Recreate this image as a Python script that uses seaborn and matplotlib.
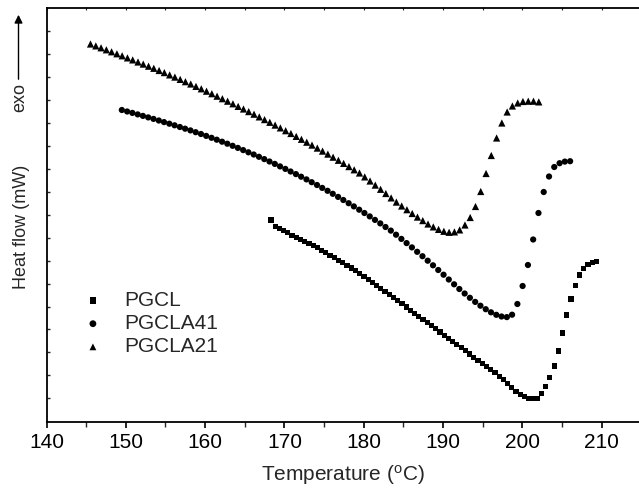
import numpy as np
import pandas as pd
import matplotlib
matplotlib.use("Agg")
import matplotlib.pyplot as plt
import seaborn as sns
from matplotlib.ticker import MultipleLocator, NullFormatter, FixedLocator

# ---------------- data ----------------
series_names = ["PGCL", "PGCLA41", "PGCLA21"]

pgcl_temp = [168.30, 168.83, 169.37, 169.90, 170.43, 170.97, 171.50, 172.03, 172.56, 173.10,
             173.63, 174.16, 174.70, 175.23, 175.76, 176.30, 176.83, 177.36, 177.89, 178.43,
             178.96, 179.49, 180.03, 180.56, 181.09, 181.63, 182.16, 182.69, 183.22, 183.76,
             184.29, 184.82, 185.36, 185.89, 186.42, 186.96, 187.49, 188.02, 188.55, 189.09,
             189.62, 190.15, 190.69, 191.22, 191.75, 192.29, 192.82, 193.35, 193.88, 194.42,
             194.95, 195.48, 196.02, 196.55, 197.08, 197.62, 198.15, 198.68, 199.21, 199.75,
             200.28, 200.81, 201.35, 201.88, 202.41, 202.95, 203.48, 204.01, 204.54, 205.08,
             205.61, 206.14, 206.68, 207.21, 207.74, 208.28, 208.81, 209.34]
pgcl_flow = [201.5, 195.0, 192.9, 190.8, 188.6, 186.4, 184.2, 182.0, 180.1, 178.3,
             176.0, 173.6, 171.2, 168.8, 166.3, 163.8, 161.3, 158.7, 156.1, 153.5,
             150.8, 148.0, 145.1, 142.2, 139.2, 136.2, 133.1, 130.0, 126.9, 123.8,
             120.7, 117.6, 114.5, 111.4, 108.3, 105.1, 102.0, 98.9, 95.8, 92.6,
             89.5, 86.4, 83.2, 80.1, 77.0, 73.8, 70.7, 67.5, 64.4, 61.2,
             58.1, 55.0, 51.9, 48.6, 45.2, 41.6, 37.8, 34.0, 30.4, 27.3,
             24.9, 23.3, 22.6, 23.3, 28.0, 35.0, 44.0, 55.5, 70.5, 88.5,
             106.5, 122.5, 136.0, 146.5, 153.0, 157.0, 159.0, 159.8]

pgcla41_temp = [149.50, 150.17, 150.83, 151.50, 152.16, 152.83, 153.49, 154.16, 154.82, 155.49,
                156.15, 156.82, 157.48, 158.15, 158.81, 159.48, 160.14, 160.81, 161.47, 162.14,
                162.80, 163.47, 164.13, 164.80, 165.46, 166.13, 166.79, 167.46, 168.12, 168.79,
                169.45, 170.12, 170.78, 171.45, 172.11, 172.78, 173.44, 174.11, 174.77, 175.44,
                176.10, 176.77, 177.43, 178.10, 178.76, 179.43, 180.09, 180.76, 181.42, 182.09,
                182.75, 183.42, 184.08, 184.75, 185.41, 186.08, 186.74, 187.41, 188.07, 188.74,
                189.40, 190.07, 190.73, 191.40, 192.06, 192.73, 193.39, 194.06, 194.72, 195.39,
                196.05, 196.72, 197.38, 198.05, 198.71, 199.38, 200.04, 200.71, 201.37, 202.04,
                202.70, 203.37, 204.03, 204.70, 205.36, 206.03]
pgcla41_flow = [311.5, 310.0, 308.6, 307.1, 305.6, 304.1, 302.6, 301.0, 299.4, 297.8,
                296.2, 294.5, 292.8, 291.1, 289.3, 287.5, 285.6, 283.7, 281.8, 279.8,
                277.8, 275.7, 273.6, 271.4, 269.2, 267.0, 264.7, 262.4, 260.0, 257.6,
                255.1, 252.6, 250.0, 247.4, 244.8, 242.1, 239.3, 236.5, 233.6, 230.7,
                227.7, 224.6, 221.5, 218.3, 215.1, 211.8, 208.5, 205.1, 201.6, 198.1,
                194.5, 190.9, 186.8, 182.6, 178.4, 174.1, 169.7, 165.3, 160.8, 156.2,
                151.5, 146.8, 142.0, 137.2, 132.5, 128.0, 123.7, 119.6, 115.8, 112.3,
                109.2, 106.7, 105.0, 104.4, 106.8, 117.5, 135.5, 156.5, 182.0, 208.5,
                229.5, 245.0, 254.5, 258.3, 259.9, 260.3]

pgcla21_temp = [145.55, 146.22, 146.88, 147.55, 148.21, 148.88, 149.54, 150.21, 150.87, 151.54,
                152.20, 152.87, 153.53, 154.20, 154.86, 155.53, 156.19, 156.86, 157.52, 158.19,
                158.85, 159.52, 160.18, 160.85, 161.51, 162.18, 162.84, 163.51, 164.17, 164.84,
                165.50, 166.17, 166.83, 167.50, 168.16, 168.83, 169.49, 170.16, 170.82, 171.49,
                172.15, 172.82, 173.48, 174.15, 174.81, 175.48, 176.14, 176.81, 177.47, 178.14,
                178.80, 179.47, 180.13, 180.80, 181.46, 182.13, 182.79, 183.46, 184.12, 184.79,
                185.45, 186.12, 186.78, 187.45, 188.11, 188.78, 189.44, 190.11, 190.77, 191.44,
                192.10, 192.77, 193.43, 194.10, 194.76, 195.43, 196.09, 196.76, 197.42, 198.09,
                198.75, 199.42, 200.08, 200.75, 201.41, 202.08]
pgcla21_flow = [377.5, 375.6, 373.7, 371.7, 369.7, 367.7, 365.7, 363.6, 361.6, 359.5,
                357.4, 355.3, 353.2, 351.0, 348.9, 346.6, 344.4, 342.1, 339.8, 337.5,
                335.1, 332.7, 330.3, 327.8, 325.3, 322.8, 320.3, 317.7, 315.1, 312.5,
                309.9, 307.3, 304.6, 301.9, 299.2, 296.4, 293.6, 290.8, 288.0, 285.1,
                282.2, 279.3, 276.4, 273.4, 270.4, 267.4, 264.3, 261.2, 258.1, 254.9,
                251.7, 248.5, 244.6, 240.5, 236.4, 232.2, 228.0, 223.6, 219.4, 215.5,
                211.8, 208.0, 204.4, 200.9, 197.5, 194.6, 192.1, 190.2, 189.2, 189.6,
                191.6, 196.5, 204.0, 215.0, 230.0, 248.0, 266.0, 283.5, 298.5, 309.5,
                315.5, 318.5, 320.0, 320.3, 320.3, 319.6]

x_tick_values = [140, 150, 160, 170, 180, 190, 200, 210]
x_label = r"Temperature ($^{\mathrm{o}}$C)"
y_label = "Heat flow (mW)"

# ---------------- style ----------------
sns.set_theme(style="ticks")
plt.rcParams["font.family"] = ["Liberation Sans", "DejaVu Sans"]
plt.rcParams["mathtext.fontset"] = "custom"
plt.rcParams["mathtext.rm"] = "Liberation Sans"
plt.rcParams["mathtext.it"] = "Liberation Sans:italic"

W, H = 639, 495
fig = plt.figure(figsize=(W / 100, H / 100), dpi=100)
ax_left, ax_right, ax_top, ax_bot = 46.5, 639.0, 7.5, 421.7
ax = fig.add_axes([ax_left / W, 1 - ax_bot / H, (ax_right - ax_left) / W, (ax_bot - ax_top) / H])

frames = []
for name, t, f in [("PGCL", pgcl_temp, pgcl_flow),
                   ("PGCLA41", pgcla41_temp, pgcla41_flow),
                   ("PGCLA21", pgcla21_temp, pgcla21_flow)]:
    frames.append(pd.DataFrame({"Temperature": t, "Heat flow": f, "Sample": name}))
df = pd.concat(frames, ignore_index=True)

marker_map = {"PGCL": "s", "PGCLA41": "o", "PGCLA21": "^"}
size_map = {"PGCL": 14, "PGCLA41": 20, "PGCLA21": 27}
for name in series_names:
    sub = df[df["Sample"] == name]
    sns.scatterplot(data=sub, x="Temperature", y="Heat flow", ax=ax,
                    marker=marker_map[name], s=size_map[name], color="black",
                    linewidth=0, edgecolor="none", label=name, legend=True)

ax.set_xlim(140, 140 + (ax_right - ax_left) / 7.93)
ax.set_ylim(-0.2, 414)

# spines
for sp in ["left", "bottom", "top"]:
    ax.spines[sp].set_linewidth(1.3)
    ax.spines[sp].set_color("black")
ax.spines["right"].set_visible(False)

# x ticks (bottom out, top in)
ax.xaxis.set_major_locator(FixedLocator(x_tick_values))
ax.xaxis.set_minor_locator(MultipleLocator(5))
ax.tick_params(axis="x", which="major", direction="out", length=4, width=1.2,
               labelsize=15, pad=4, colors="black", top=False)
ax.tick_params(axis="x", which="minor", direction="out", length=3.5, width=1.0, top=False)
secax = ax.secondary_xaxis("top")
secax.xaxis.set_major_locator(MultipleLocator(5))
secax.xaxis.set_major_formatter(NullFormatter())
secax.tick_params(direction="in", length=2, width=0.8)
secax.spines["top"].set_visible(False)

# y ticks (left, inward, no labels)
ax.yaxis.set_major_locator(FixedLocator(list(np.arange(23.2, 400, 22.95))))
ax.yaxis.set_major_formatter(NullFormatter())
ax.tick_params(axis="y", which="major", direction="in", length=2.5, width=1.0, right=False)
ax.yaxis.set_minor_locator(FixedLocator([]))

ax.set_xlabel(x_label, fontsize=15, labelpad=8)
ax.set_ylabel("")

# y-label + exo arrow (figure pixel coords)
fig.text(21.5 / W, 1 - 227 / H, y_label, rotation=90, ha="center", va="center", fontsize=13)
fig.text(19.5 / W, 1 - 98 / H, "exo", rotation=90, ha="center", va="center", fontsize=13)
fig.patches.append(matplotlib.patches.FancyArrowPatch(
    (18.5 / W, 1 - 82 / H), (18.5 / W, 1 - 12 / H), transform=fig.transFigure,
    arrowstyle="-|>", mutation_scale=12, lw=1.0, color="black"))

# legend
leg = ax.legend(loc="upper left", bbox_to_anchor=(82.5 / W, 1 - 291 / H),
                bbox_transform=fig.transFigure, frameon=False, fontsize=15,
                handlelength=1.0, handletextpad=1.0, labelspacing=0.2,
                borderpad=0, borderaxespad=0, scatterpoints=1)
for h in leg.legend_handles:
    h.set_sizes([24])

fig.savefig("out.png", dpi=100)
